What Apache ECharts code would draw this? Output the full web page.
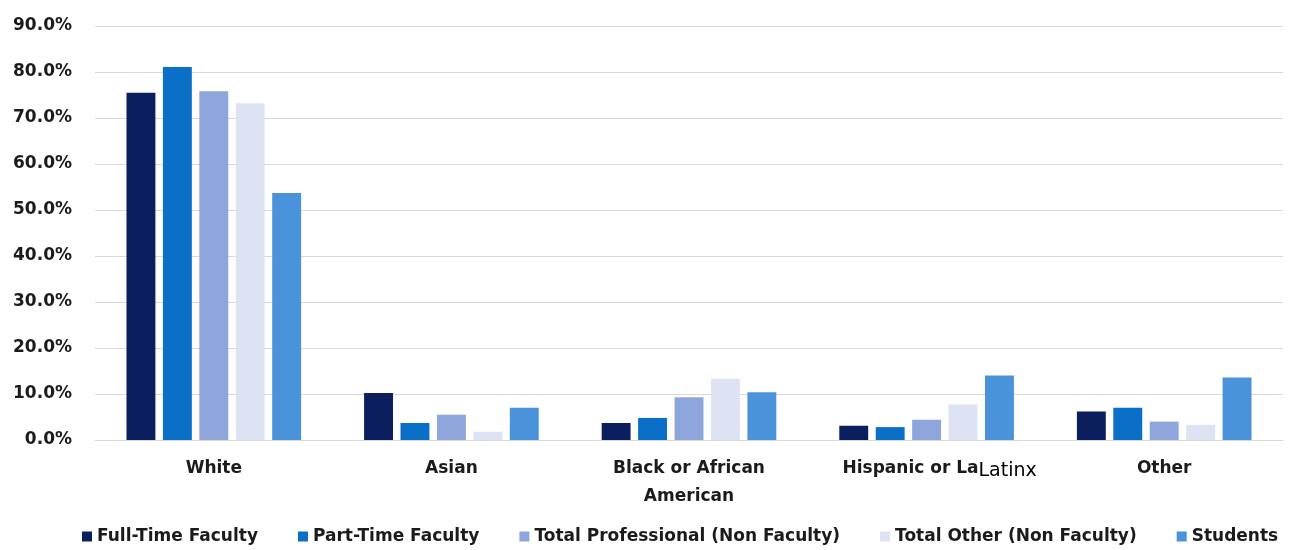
<!DOCTYPE html>
<html>
<head>
<meta charset="utf-8">
<script src="https://cdn.jsdelivr.net/npm/echarts@6/dist/echarts.min.js"></script>
<style>
  html, body { margin: 0; padding: 0; background: #ffffff; }
  #chart { width: 1307px; height: 550px; }
</style>
</head>
<body>
<div id="chart"></div>
<script>
// Race / ethnicity shares (%) by population group
const categories = ['White', 'Asian', 'Black or African\nAmerican', 'Hispanic or LaLatinx', 'Other'];
const seriesNames = ['Full-Time Faculty', 'Part-Time Faculty', 'Total Professional (Non Faculty)', 'Total Other (Non Faculty)', 'Students'];
const fullTimeFaculty = [75.5, 10.2, 3.7, 3.1, 6.2];
const partTimeFaculty = [81.1, 3.7, 4.8, 2.8, 7.0];
const totalProfessional = [75.8, 5.5, 9.3, 4.4, 4.0];
const totalOther = [73.2, 1.8, 13.3, 7.7, 3.3];
const students = [53.7, 7.0, 10.4, 14.0, 13.6];
const yTicks = [0, 10, 20, 30, 40, 50, 60, 70, 80, 90];

const colors = ['#0b1f5e', '#0a6fc7', '#8fa6dd', '#dde3f2', '#4a92da'];
const seriesValues = [fullTimeFaculty, partTimeFaculty, totalProfessional, totalOther, students];

const textColor = '#1b1b1b';
const labelFont = '"DejaVu Sans", sans-serif';

const chart = echarts.init(document.getElementById('chart'), null, { renderer: 'canvas' });

chart.setOption({
  backgroundColor: '#ffffff',
  animation: false,
  color: colors,
  grid: { left: 95, right: 24, top: 26, bottom: 110, containLabel: false },
  legend: {
    top: 523,
    left: 77,
    itemWidth: 10,
    itemHeight: 10,
    itemGap: 40,
    icon: 'rect',
    textStyle: { color: textColor, fontSize: 17, fontWeight: 'bold', fontFamily: labelFont },
    data: seriesNames
  },
  xAxis: {
    type: 'category',
    data: categories,
    axisLine: { show: true, lineStyle: { color: '#d9d9d9', width: 1 } },
    axisTick: { show: false },
    axisLabel: {
      color: textColor,
      fontSize: 17,
      fontWeight: 'bold',
      fontFamily: labelFont,
      margin: 15,
      lineHeight: 28,
      interval: 0,
      formatter: function (v) {
        if (v === 'Hispanic or LaLatinx') {
          return '{a|Hispanic or La}{b|Latinx}';
        }
        return v;
      },
      rich: {
        a: { color: textColor, fontSize: 17, fontWeight: 'bold', fontFamily: labelFont, padding: [0, 0, 0, 26] },
        b: { color: '#000000', fontSize: 19, fontWeight: 'normal', fontFamily: labelFont, padding: [4, 0, 0, 0] }
      }
    }
  },
  yAxis: {
    type: 'value',
    min: 0,
    max: 90,
    interval: 10,
    axisLine: { show: false },
    axisTick: { show: false },
    splitLine: { show: true, lineStyle: { color: '#d9d9d9', width: 1 } },
    axisLabel: {
      color: textColor,
      fontSize: 17,
      fontWeight: 'bold',
      fontFamily: labelFont,
      margin: 23,
      formatter: function (v) {
        return yTicks.indexOf(v) >= 0 ? v.toFixed(1) + '%' : '';
      }
    }
  },
  series: seriesNames.map(function (name, i) {
    return {
      name: name,
      type: 'bar',
      data: seriesValues[i],
      barGap: '26%',
      barCategoryGap: '26.5%',
      itemStyle: { color: colors[i] }
    };
  })
});
</script>
</body>
</html>
